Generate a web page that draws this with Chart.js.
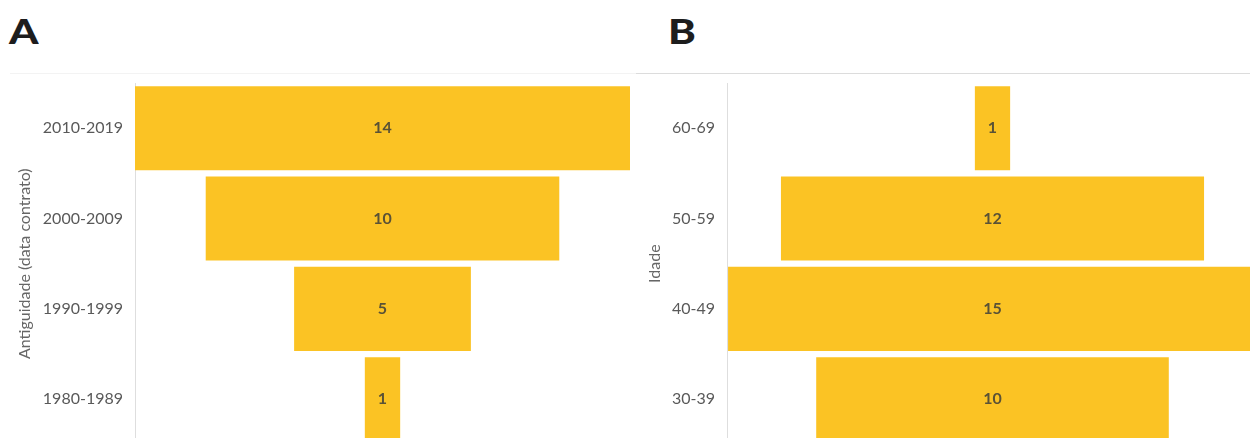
<!DOCTYPE html>
<html>
<head>
<meta charset="utf-8">
<script src="https://cdn.jsdelivr.net/npm/chart.js@4.4.0/dist/chart.umd.min.js"></script>
<style>
  html, body { margin:0; padding:0; width:1250px; height:438px; overflow:hidden; background:#fff; }
  .panel-letter { position:absolute; top:8px; font-family:Lato, "Open Sans", sans-serif; font-weight:900; font-size:35px; color:#1d1d1d; line-height:45px; transform:scaleX(1.2); transform-origin:left center; }
  .rule { position:absolute; top:73px; height:1px; }
  .wrap { position:absolute; top:0; }
</style>
</head>
<body>
<div class="panel-letter" style="left:9px;">A</div>
<div class="panel-letter" style="left:668px;">B</div>
<div class="rule" style="left:10px; width:626px; background:#f3f3f3;"></div>
<div class="rule" style="left:636px; width:614px; background:#dcdcdc;"></div>
<div class="wrap" style="left:0;"><canvas id="cA" width="636" height="466"></canvas></div>
<div class="wrap" style="left:636px;"><canvas id="cB" width="630" height="466"></canvas></div>
<script>
// ---- data ----
const categoriesA = ["2010-2019", "2000-2009", "1990-1999", "1980-1989"];
const valuesA = [14, 10, 5, 1];
const axisTitleA = "Antiguidade (data contrato)";

const categoriesB = ["60-69", "50-59", "40-49", "30-39"];
const valuesB = [1, 12, 15, 10];
const axisTitleB = "Idade";

const barColor = "#FBC324";

const valueLabels = {
  id: 'valueLabels',
  afterDatasetsDraw(chart) {
    const ctx = chart.ctx;
    const meta = chart.getDatasetMeta(0);
    const vals = chart.data.datasets[0].rawValues;
    ctx.save();
    ctx.font = 'bold 16px Lato, "Open Sans", sans-serif';
    ctx.fillStyle = '#5a5236';
    ctx.textAlign = 'center';
    ctx.textBaseline = 'middle';
    meta.data.forEach((el, i) => {
      const c = el.getCenterPoint();
      ctx.fillText(String(vals[i]), c.x, c.y);
    });
    ctx.restore();
  }
};

function makeFunnel(id, cats, vals, title, half, padLeft, axisWidth, padRight) {
  return new Chart(document.getElementById(id), {
    type: 'bar',
    data: {
      labels: cats,
      datasets: [{
        data: vals.map(v => [-v / 2, v / 2]),
        rawValues: vals,
        backgroundColor: barColor,
        borderWidth: 0,
        categoryPercentage: 1,
        barPercentage: 0.93
      }]
    },
    options: {
      indexAxis: 'y',
      responsive: false,
      animation: false,
      layout: { padding: { top: 83, bottom: 7, left: padLeft, right: padRight } },
      plugins: { legend: { display: false }, tooltip: { enabled: false } },
      scales: {
        x: { display: false, min: -half, max: half },
        y: {
          grid: { display: false, drawTicks: false },
          border: { display: true, color: '#dedede', width: 1 },
          ticks: { padding: 12, color: '#595959', font: { family: 'Lato, "Open Sans", sans-serif', size: 16 } },
          title: { display: true, text: title, color: '#666', padding: { top: 0, bottom: 0 },
                   font: { family: 'Lato, "Open Sans", sans-serif', size: 16 } },
          afterFit(scale) { scale.width = axisWidth; }
        }
      }
    },
    plugins: [valueLabels]
  });
}

makeFunnel('cA', categoriesA, valuesA, axisTitleA, 7, 15, 120, 6);
makeFunnel('cB', categoriesB, valuesB, axisTitleB, 7.53, 9, 82, 8);
</script>
</body>
</html>
